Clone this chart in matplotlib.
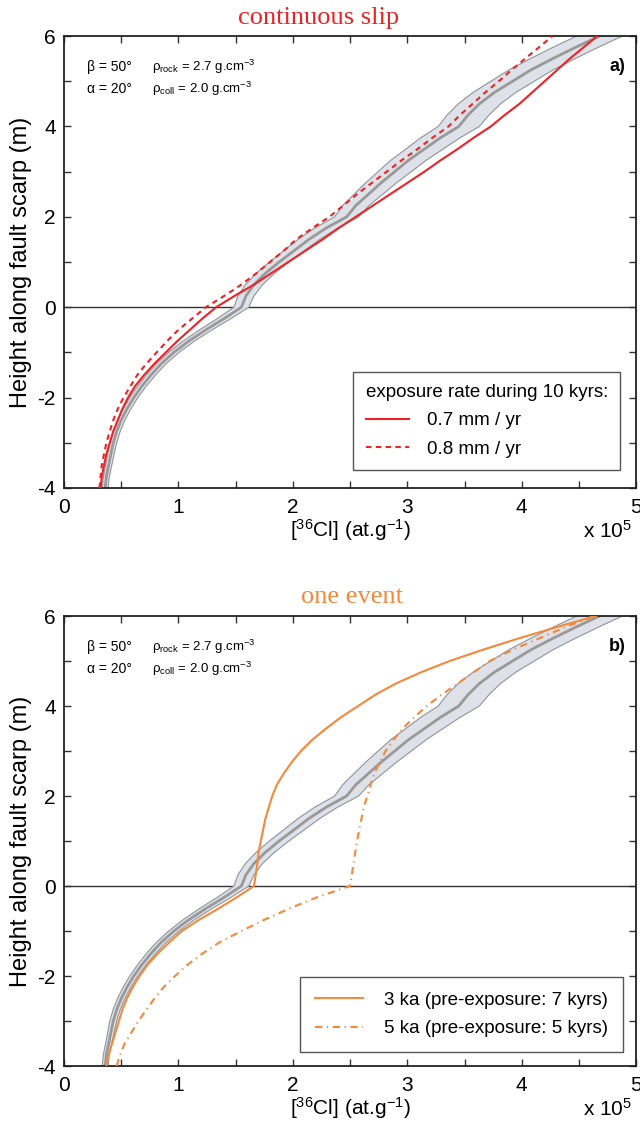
import numpy as np
import matplotlib
matplotlib.use('Agg')
import matplotlib.pyplot as plt

plt.rcParams['font.family'] = ['Liberation Sans', 'DejaVu Sans']
plt.rcParams['mathtext.fontset'] = 'custom'
plt.rcParams['mathtext.rm'] = 'Liberation Sans'
plt.rcParams['mathtext.it'] = 'Liberation Sans:italic'
plt.rcParams['mathtext.bf'] = 'Liberation Sans:bold'
plt.rcParams['axes.unicode_minus'] = False

# height along the scarp (m), shared by all profiles
height = [-4, -3.75, -3.5, -3.25, -3, -2.75, -2.5, -2.25, -2, -1.75, -1.5, -1.25, -1, -0.75, -0.5, -0.25,
          0, 0.25, 0.5, 0.75, 1, 1.25, 1.5, 1.75, 2, 2.25, 2.5, 2.75, 3, 3.25, 3.5, 3.75,
          4, 4.25, 4.5, 4.75, 5, 5.25, 5.5, 5.75, 6]

# 36Cl concentration (x 1e5 at/g)
model_cl = [0.36, 0.37, 0.39, 0.41, 0.43, 0.46, 0.50, 0.55, 0.61, 0.68, 0.76, 0.85, 0.96, 1.09, 1.24, 1.40,
            1.55, 1.59, 1.66, 1.76, 1.88, 2.01, 2.14, 2.29, 2.47, 2.55, 2.66, 2.77, 2.89, 3.01, 3.15, 3.29,
            3.45, 3.53, 3.63, 3.76, 3.92, 4.08, 4.27, 4.47, 4.68]
model_err = [0.025, 0.026, 0.027, 0.028, 0.03, 0.031, 0.032, 0.034, 0.035, 0.037, 0.04, 0.042, 0.045, 0.05,
             0.055, 0.06, 0.065, 0.07, 0.075, 0.08, 0.085, 0.09, 0.095, 0.1, 0.105, 0.115, 0.125, 0.135,
             0.145, 0.155, 0.163, 0.172, 0.18, 0.183, 0.185, 0.187, 0.19, 0.193, 0.195, 0.198, 0.2]

slip_07 = [0.32, 0.33, 0.35, 0.37, 0.40, 0.43, 0.47, 0.51, 0.56, 0.62, 0.70, 0.79, 0.89, 0.99, 1.10, 1.21,
           1.33, 1.49, 1.66, 1.81, 1.96, 2.11, 2.26, 2.40, 2.55, 2.70, 2.85, 3.00, 3.15, 3.29, 3.44, 3.58,
           3.73, 3.85, 3.98, 4.09, 4.20, 4.31, 4.42, 4.54, 4.66]
slip_08 = [0.31, 0.32, 0.33, 0.35, 0.37, 0.40, 0.43, 0.47, 0.52, 0.58, 0.64, 0.72, 0.81, 0.90, 1.00, 1.12,
           1.24, 1.40, 1.55, 1.68, 1.80, 1.92, 2.03, 2.17, 2.32, 2.44, 2.56, 2.69, 2.82, 2.95, 3.09, 3.22,
           3.36, 3.46, 3.57, 3.68, 3.80, 3.91, 4.03, 4.15, 4.27]

event_3ka = [0.37, 0.39, 0.42, 0.45, 0.48, 0.51, 0.55, 0.60, 0.66, 0.73, 0.82, 0.92, 1.03, 1.18, 1.35, 1.51,
             1.66, 1.675, 1.69, 1.70, 1.72, 1.74, 1.76, 1.79, 1.82, 1.86, 1.92, 1.99, 2.07, 2.17, 2.29, 2.42,
             2.57, 2.72, 2.90, 3.12, 3.37, 3.66, 3.97, 4.30, 4.65]
event_5ka = [0.46, 0.49, 0.53, 0.59, 0.65, 0.72, 0.79, 0.87, 0.97, 1.08, 1.21, 1.36, 1.55, 1.75, 1.97, 2.21,
             2.50, 2.515, 2.53, 2.545, 2.56, 2.58, 2.60, 2.62, 2.65, 2.68, 2.71, 2.76, 2.81, 2.88, 2.96, 3.06,
             3.17, 3.30, 3.44, 3.58, 3.72, 3.92, 4.15, 4.38, 4.63]

red = '#EC2227'
orange = '#F5883A'

fig = plt.figure(figsize=(6.4, 11.27), dpi=100)
ax_a = fig.add_axes([0.1, 0.567, 0.894, 0.401])
ax_b = fig.add_axes([0.1, 0.0541, 0.894, 0.3993])


def drawModel(ax):
    lo = np.array(model_cl) - np.array(model_err)
    hi = np.array(model_cl) + np.array(model_err)
    ax.fill_betweenx(height, lo, hi, facecolor='#DEE2E8', edgecolor='none', zorder=2)
    ax.plot(lo, height, color='#8E949C', lw=0.8, zorder=2)
    ax.plot(hi, height, color='#8E949C', lw=0.8, zorder=2)
    ax.plot(model_cl, height, color='#999999', lw=2, zorder=2)


def setupAxes(ax, tag):
    ax.set_xlim(0, 5)
    ax.set_ylim(-4, 6)
    ax.axhline(0, color='#333333', lw=1, zorder=1)
    ax.set_xticks(np.arange(0, 5.01, 0.5))
    ax.set_xticklabels(['0', '', '1', '', '2', '', '3', '', '4', '', '5'])
    ax.set_yticks(np.arange(-4, 6.01, 1))
    ax.set_yticklabels(['-4', '', '-2', '', '0', '', '2', '', '4', '', '6'])
    ax.tick_params(direction='in', length=5, width=1, top=True, right=True,
                   labelsize=15, pad=6, color='#333333')
    ax.tick_params(axis='x', pad=7)
    for s in ax.spines.values():
        s.set_linewidth(1.3)
        s.set_color('#222222')
    ax.set_xlabel(r'[$^{36}$Cl] (at.g$^{-1}$)', fontsize=15)
    ax.xaxis.set_label_coords(0.5, -0.065)
    ax.set_ylabel('Height along fault scarp (m)', fontsize=17)
    ax.yaxis.set_label_coords(-0.056, 0.5)
    ax.text(0.993, -0.111, r'x 10$^5$', transform=ax.transAxes, ha='right',
            va='baseline', fontsize=15)
    ax.text(0.04, 0.931, 'β = 50°', transform=ax.transAxes, va='center', fontsize=10)
    ax.text(0.04, 0.883, 'α = 20°', transform=ax.transAxes, va='center', fontsize=10)
    ax.text(0.154, 0.931, r'ρ$_{\mathrm{rock}}$ = 2.7 g.cm$^{-3}$', transform=ax.transAxes,
            va='center', fontsize=9.5)
    ax.text(0.154, 0.883, r'ρ$_{\mathrm{coll}}$ = 2.0 g.cm$^{-3}$', transform=ax.transAxes,
            va='center', fontsize=9.5)
    ax.text(0.981, 0.933, tag, transform=ax.transAxes, ha='right', va='center',
            fontsize=13, fontweight='bold')


# a) continuous slip
drawModel(ax_a)
ax_a.plot(slip_07, height, color=red, lw=1.5, zorder=3, label='0.7 mm / yr')
ax_a.plot(slip_08, height, color=red, lw=1.5, ls=(0, (2.6, 2.1)), zorder=3, label='0.8 mm / yr')
setupAxes(ax_a, 'a)')
leg = ax_a.legend(title='exposure rate during 10 kyrs:', loc='lower right',
                  bbox_to_anchor=(0.972, 0.04), borderaxespad=0, fontsize=13.5,
                  title_fontsize=13.5, fancybox=False, edgecolor='#555555', framealpha=1,
                  handlelength=2.3, handletextpad=1.0, labelspacing=0.6, borderpad=0.65,
                  alignment='left')
leg.get_frame().set_linewidth(1.0)

# b) one event
drawModel(ax_b)
ax_b.plot(event_3ka, height, color=orange, lw=1.5, zorder=3, label='3 ka (pre-exposure: 7 kyrs)')
ax_b.plot(event_5ka, height, color=orange, lw=1.5, ls=(0, (3.5, 2.2, 0.6, 2.2)), zorder=3,
          label='5 ka (pre-exposure: 5 kyrs)')
setupAxes(ax_b, 'b)')
leg = ax_b.legend(loc='lower right', bbox_to_anchor=(0.977, 0.031), borderaxespad=0,
                  fontsize=13.5, fancybox=False, edgecolor='#555555', framealpha=1,
                  handlelength=2.6, handletextpad=1.1, labelspacing=0.6, borderpad=0.8)
leg.get_frame().set_linewidth(1.0)

fig.text(0.498, 1 - 18 / 1127, 'continuous slip', ha='center', va='center', fontsize=19,
         family='Liberation Serif', color=red)
fig.text(0.55, 1 - 597 / 1127, 'one event', ha='center', va='center', fontsize=19,
         family='Liberation Serif', color=orange)

fig.savefig('out.png', dpi=100)
